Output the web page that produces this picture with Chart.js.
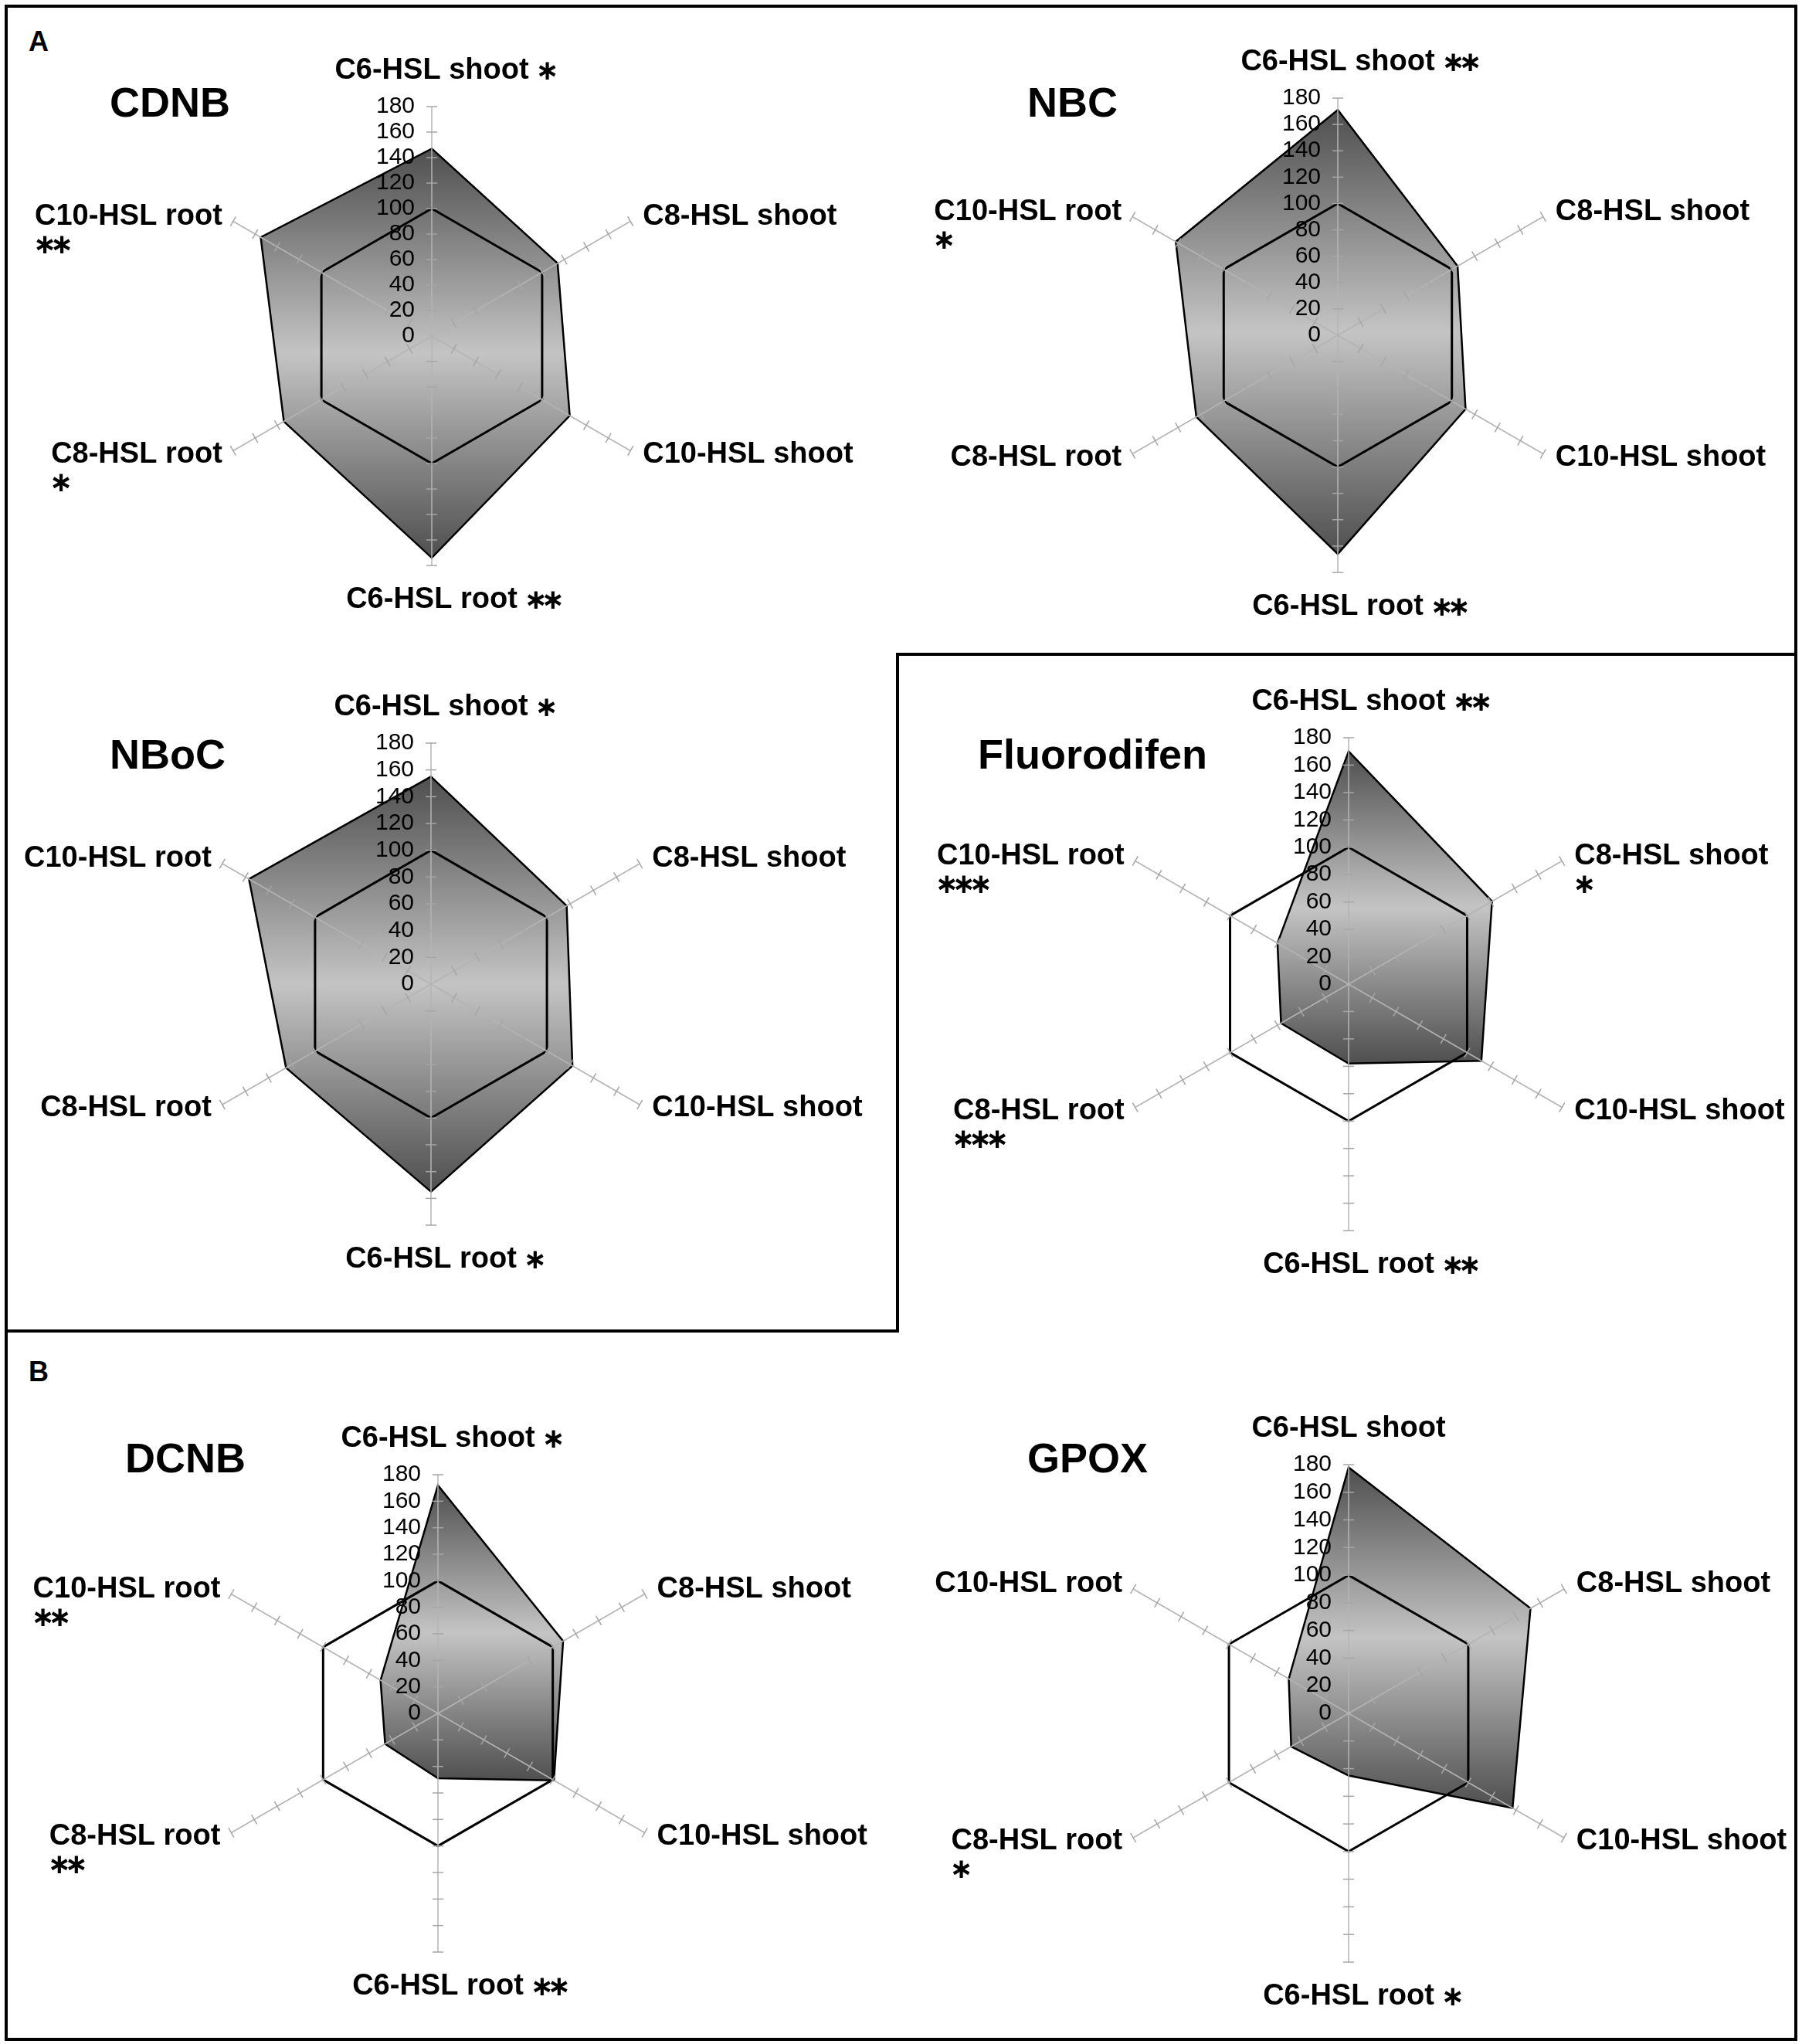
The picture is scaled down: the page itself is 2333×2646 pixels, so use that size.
<!DOCTYPE html>
<html>
<head>
<meta charset="utf-8">
<title>GST activity radar charts</title>
<script src="https://cdn.jsdelivr.net/npm/chart.js@4.4.1/dist/chart.umd.min.js"></script>
<style>
    html, body { margin: 0; padding: 0; background: #fff; }
    body { width: 2333px; height: 2646px; position: relative; overflow: hidden; font-family: "Liberation Sans", Arial, sans-serif; }
    .rule { position: absolute; background: #000; }
    .frame { position: absolute; border: 4px solid #000; box-sizing: border-box; }
    .title { position: absolute; font-weight: bold; font-size: 54px; line-height: 1; transform: translateY(-50%); white-space: nowrap; }
    .panel { position: absolute; font-weight: bold; font-size: 36px; line-height: 1; transform: translateY(-50%); }
    canvas.radar { position: absolute; }
</style>
</head>
<body>
<div class="frame" style="left:6px;top:6px;width:2321px;height:2636px;"></div>
<div class="rule" style="left:1160px;top:845px;width:1165px;height:4px;"></div>
<div class="rule" style="left:1160px;top:845px;width:4px;height:880px;"></div>
<div class="rule" style="left:8px;top:1721px;width:1156px;height:4px;"></div>
<div class="panel" style="left:37px;top:54px;">A</div>
<div class="panel" style="left:37px;top:1776px;">B</div>

<script>
// Data (% of control)
const axisLabels = ['C6-HSL shoot', 'C8-HSL shoot', 'C10-HSL shoot', 'C6-HSL root', 'C8-HSL root', 'C10-HSL root'];
const tickValues = [0, 20, 40, 60, 80, 100, 120, 140, 160, 180];
const controlValues = [100, 100, 100, 100, 100, 100];

const cdnbValues = [147, 114, 125, 174, 134, 155];
const nbcValues = [171, 105, 112, 166, 124, 142];
const nbocValues = [155, 117, 122, 155, 125, 157];
const fluorodifenValues = [170, 121, 112, 58, 57, 60];
const dcnbValues = [172, 109, 101, 49, 46, 50];
const gpoxValues = [178, 152, 137, 45, 48, 50];

// significance marks per axis
const cdnbStars = [1, 0, 0, 2, 1, 2];
const nbcStars = [2, 0, 0, 2, 0, 1];
const nbocStars = [1, 0, 0, 1, 0, 0];
const fluorodifenStars = [2, 1, 0, 2, 3, 3];
const dcnbStars = [1, 0, 0, 2, 2, 2];
const gpoxStars = [0, 0, 0, 1, 1, 0];

// layout of the six panels (page pixels)
const panels = [
    { title: 'CDNB', values: cdnbValues, stars: cdnbStars, cx: 559, cy: 435, r: 297, tx: 142, ty: 132 },
    { title: 'NBC', values: nbcValues, stars: nbcStars, cx: 1732, cy: 434, r: 307, tx: 1330, ty: 132 },
    { title: 'NBoC', values: nbocValues, stars: nbocStars, cx: 558, cy: 1274, r: 312, tx: 142, ty: 976 },
    { title: 'Fluorodifen', values: fluorodifenValues, stars: fluorodifenStars, cx: 1746, cy: 1274, r: 319, tx: 1266, ty: 976 },
    { title: 'DCNB', values: dcnbValues, stars: dcnbStars, cx: 567, cy: 2218, r: 309, tx: 162, ty: 1887 },
    { title: 'GPOX', values: gpoxValues, stars: gpoxStars, cx: 1746, cy: 2218, r: 322, tx: 1330, ty: 1887 }
];

const labelFont = 'bold 38px "Liberation Sans", Arial, sans-serif';
const starFont = 'bold 36px "DejaVu Sans", sans-serif';
const tickFont = '30px "Liberation Sans", Arial, sans-serif';

// Vertical dark-light-dark shading over the polygon's height
function shadeFill(context) {
    const chart = context.chart;
    const scale = chart.scales.r;
    if (!scale || scale.xCenter === undefined) return '#999';
    const ds = chart.data.datasets[context.datasetIndex];
    const ys = ds.data.map((v, i) => scale.getPointPositionForValue(i, v).y);
    const top = Math.min(...ys);
    const bottom = Math.max(...ys);
    const g = chart.ctx.createLinearGradient(0, top, 0, bottom);
    g.addColorStop(0, '#4f4f4f');
    g.addColorStop(0.5, '#c4c4c4');
    g.addColorStop(1, '#4f4f4f');
    return g;
}

// x is the left edge of the first star
function drawStars(ctx, count, x, y) {
    ctx.save();
    ctx.font = starFont;
    ctx.textAlign = 'center';
    for (let k = 0; k < count; k++) {
        ctx.fillText('\u2217', x + 10 + k * 22, y + 2);
    }
    ctx.restore();
}

// Spokes, tick marks, tick labels and axis labels
const axisDecor = {
    id: 'axisDecor',
    afterDatasetsDraw(chart) {
        const scale = chart.scales.r;
        const ctx = chart.ctx;
        const n = chart.data.labels.length;
        const maxV = tickValues[tickValues.length - 1];
        ctx.save();
        for (let i = 0; i < n; i++) {
            const end = scale.getPointPositionForValue(i, maxV);
            ctx.strokeStyle = '#b4b4b4';
            ctx.lineWidth = 1.5;
            ctx.beginPath();
            ctx.moveTo(scale.xCenter, scale.yCenter);
            ctx.lineTo(end.x, end.y);
            ctx.stroke();

            const a = scale.getIndexAngle(i) - Math.PI / 2;
            const nx = -Math.sin(a), ny = Math.cos(a);
            ctx.strokeStyle = '#a6a6a6';
            tickValues.forEach(v => {
                if (v === 0) return;
                const p = scale.getPointPositionForValue(i, v);
                ctx.beginPath();
                ctx.moveTo(p.x - nx * 7, p.y - ny * 7);
                ctx.lineTo(p.x + nx * 7, p.y + ny * 7);
                ctx.stroke();
            });
        }
        ctx.fillStyle = '#000';
        ctx.font = tickFont;
        ctx.textAlign = 'right';
        ctx.textBaseline = 'middle';
        tickValues.forEach(v => {
            const p = scale.getPointPositionForValue(0, v);
            ctx.fillText(String(v), p.x - 22, p.y);
        });
        ctx.restore();
    },
    afterDraw(chart, args, opts) {
        const scale = chart.scales.r;
        const ctx = chart.ctx;
        ctx.save();
        ctx.font = labelFont;
        ctx.fillStyle = '#000';
        ctx.textBaseline = 'middle';
        chart.data.labels.forEach((label, i) => {
            const p = scale.getPointPosition(i, scale.drawingArea);
            const stars = opts.stars[i];
            const w = ctx.measureText(label).width;
            if (i === 0 || i === 3) {
                const y = i === 0 ? p.y - 46 : p.y + 45;
                ctx.textAlign = 'center';
                ctx.fillText(label, p.x, y);
                if (stars) drawStars(ctx, stars, p.x + w / 2 + 14, y);
            } else {
                const onRight = i < 3;
                const y = p.y + (i === 1 || i === 5 ? -6 : 5);
                const x0 = onRight ? p.x + 16 : p.x - 14 - w;
                ctx.textAlign = 'left';
                ctx.fillText(label, x0, y);
                if (stars) drawStars(ctx, stars, x0 + 3, y + 36);
            }
        });
        ctx.restore();
    }
};

const W = 1180;
const H = 840;

panels.forEach(p => {
    const t = document.createElement('div');
    t.className = 'title';
    t.style.left = p.tx + 'px';
    t.style.top = p.ty + 'px';
    t.textContent = p.title;
    document.body.appendChild(t);

    const canvas = document.createElement('canvas');
    canvas.className = 'radar';
    canvas.width = W;
    canvas.height = H;
    canvas.style.width = W + 'px';
    canvas.style.height = H + 'px';
    canvas.style.left = (p.cx - W / 2) + 'px';
    canvas.style.top = (p.cy - H / 2) + 'px';
    document.body.appendChild(canvas);

    const padX = W / 2 - p.r;
    const padY = H / 2 - p.r;

    const chart = new Chart(canvas, {
        type: 'radar',
        data: {
            labels: axisLabels,
            datasets: [
                {
                    label: 'Control',
                    data: controlValues,
                    borderColor: '#000',
                    borderWidth: 3,
                    backgroundColor: 'rgba(0,0,0,0)',
                    fill: false,
                    pointRadius: 0,
                    order: 0
                },
                {
                    label: p.title,
                    data: p.values,
                    borderColor: '#000',
                    borderWidth: 2.5,
                    backgroundColor: shadeFill,
                    fill: 'origin',
                    pointRadius: 0,
                    order: 1
                }
            ]
        },
        options: {
            responsive: false,
            animation: false,
            devicePixelRatio: 1,
            layout: { padding: { left: padX, right: padX, top: padY, bottom: padY } },
            elements: { line: { tension: 0 } },
            plugins: {
                legend: { display: false },
                tooltip: { enabled: false },
                axisDecor: { stars: p.stars }
            },
            scales: {
                r: {
                    min: 0,
                    max: 180,
                    startAngle: 0,
                    ticks: { display: false, stepSize: 20 },
                    grid: { display: false },
                    angleLines: { display: false },
                    pointLabels: { display: false }
                }
            }
        },
        plugins: [axisDecor]
    });

    // place the canvas so the scale centre sits where the figure has it
    const scale = chart.scales.r;
    canvas.style.left = (p.cx - scale.xCenter) + 'px';
    canvas.style.top = (p.cy - scale.yCenter) + 'px';
});
</script>
</body>
</html>
